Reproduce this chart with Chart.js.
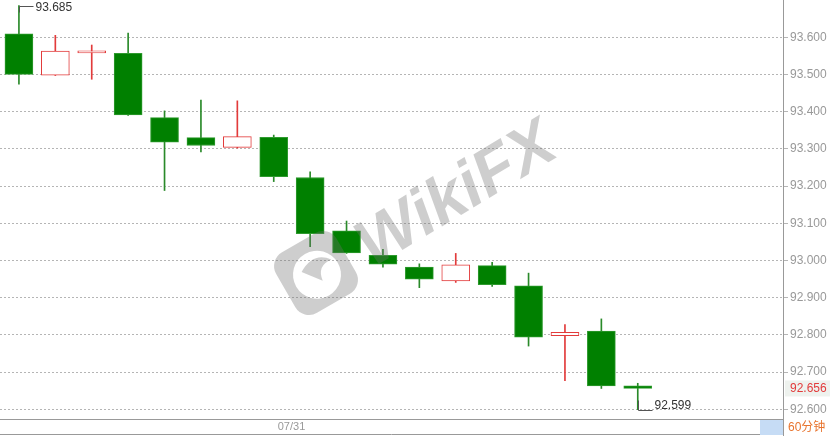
<!DOCTYPE html>
<html>
<head>
<meta charset="utf-8">
<script src="https://cdn.jsdelivr.net/npm/chart.js@4.4.0/dist/chart.umd.min.js"></script>
<style>
  body { margin: 0; background: #fff; }
  #wrap { width: 830px; height: 436px; position: relative; }
</style>
</head>
<body>
<div id="wrap"><canvas id="grafico"></canvas></div>
<script>
// velas de 60 minutos
const opens  = [93.609, 93.498, 93.558, 93.557, 93.384, 93.330, 93.304, 93.331, 93.223, 93.080, 93.014, 92.982, 92.945, 92.986, 92.932, 92.798, 92.810, 92.663];
const highs  = [93.685, 93.605, 93.579, 93.611, 93.402, 93.431, 93.429, 93.337, 93.238, 93.106, 93.030, 92.991, 93.019, 92.995, 92.966, 92.828, 92.843, 92.670];
const lows   = [93.474, 93.497, 93.487, 93.390, 93.188, 93.292, 93.302, 93.212, 93.037, 93.019, 92.982, 92.927, 92.941, 92.930, 92.770, 92.677, 92.656, 92.599];
const closes = [93.500, 93.563, 93.560, 93.391, 93.318, 93.309, 93.333, 93.225, 93.072, 93.020, 92.990, 92.950, 92.988, 92.935, 92.794, 92.807, 92.663, 92.656];

const yTicks = [92.6, 92.7, 92.8, 92.9, 93.0, 93.1, 93.2, 93.3, 93.4, 93.5, 93.6];
const xTickIdx = [7];
const xTickLabels = ["07/31"];
const periodo = "60分钟";

const idx = opens.map((_, i) => i);
const sobe = idx.map((i) => closes[i] >= opens[i]);

const VERDE = "#008000";
const VERMELHO = "#e23b3b";
const FONTE = '"Liberation Sans", Arial, sans-serif';

// marca d'agua, maxima/minima e rodape
const extras = {
  id: "extras",
  afterDatasetsDraw(chart) {
    const { ctx, scales: { x, y } } = chart;

    // WikiFX
    ctx.save();
    ctx.fillStyle = "rgba(110,110,110,0.34)";
    ctx.translate(457, 196);
    ctx.rotate(-31 * Math.PI / 180);
    ctx.font = "italic bold 66px " + FONTE;
    ctx.textAlign = "center";
    ctx.textBaseline = "middle";
    ctx.fillText("WikiFX", 0, 0);
    ctx.restore();

    ctx.save();
    ctx.translate(316, 273);
    ctx.rotate(-30 * Math.PI / 180);
    ctx.fillStyle = "rgba(110,110,110,0.34)";
    ctx.beginPath();
    ctx.roundRect(-35, -35, 70, 70, 16);
    ctx.arc(0, 2, 24, 0, Math.PI * 2, true);
    ctx.fill("evenodd");
    ctx.beginPath();
    ctx.moveTo(-12, -8);
    ctx.quadraticCurveTo(8, -20, 20, -4);
    ctx.quadraticCurveTo(4, -6, 2, 10);
    ctx.quadraticCurveTo(-6, 0, -12, -8);
    ctx.fill();
    ctx.restore();

    // maxima e minima
    const iMax = highs.indexOf(Math.max(...highs));
    const iMin = lows.indexOf(Math.min(...lows));
    ctx.save();
    ctx.strokeStyle = "#555";
    ctx.lineWidth = 1;
    ctx.fillStyle = "#333";
    ctx.font = "12px " + FONTE;
    ctx.textAlign = "left";

    let px = Math.round(x.getPixelForValue(iMax)) + 0.5;
    let py = Math.round(y.getPixelForValue(highs[iMax])) + 0.5;
    ctx.beginPath();
    ctx.moveTo(px, py + 6);
    ctx.lineTo(px, py);
    ctx.lineTo(px + 14, py);
    ctx.stroke();
    ctx.textBaseline = "middle";
    ctx.fillText(highs[iMax].toFixed(3), px + 16, py + 1);

    px = Math.round(x.getPixelForValue(iMin)) + 0.5;
    py = Math.round(y.getPixelForValue(lows[iMin])) + 0.5;
    ctx.beginPath();
    ctx.moveTo(px, py - 10);
    ctx.lineTo(px, py);
    ctx.lineTo(px + 14, py);
    ctx.stroke();
    ctx.textBaseline = "bottom";
    ctx.fillText(lows[iMin].toFixed(3), px + 16, py + 1);
    ctx.restore();
  },
  afterDraw(chart) {
    const { ctx, chartArea, scales: { y } } = chart;
    const ultimo = closes[closes.length - 1];
    const ly = y.getPixelForValue(ultimo);
    ctx.save();
    ctx.fillStyle = "#eef2ee";
    ctx.fillRect(chartArea.right + 2, ly - 8, 46, 16);
    ctx.fillStyle = VERMELHO;
    ctx.font = "12px " + FONTE;
    ctx.textBaseline = "middle";
    ctx.fillText(ultimo.toFixed(3), chartArea.right + 7, ly);

    // rodape
    ctx.strokeStyle = "#999";
    ctx.lineWidth = 1;
    ctx.beginPath();
    ctx.moveTo(0, 434.5);
    ctx.lineTo(chartArea.right, 434.5);
    ctx.moveTo(chartArea.right + 0.5, chartArea.bottom);
    ctx.lineTo(chartArea.right + 0.5, 436);
    ctx.stroke();
    ctx.fillStyle = "#c6dcf5";
    ctx.fillRect(chartArea.right - 23, chartArea.bottom + 1, 23, 15);
    ctx.fillStyle = "#e8742e";
    ctx.font = '12px "Liberation Sans", "Noto Sans CJK SC", sans-serif';
    ctx.fillText(periodo, chartArea.right + 5, chartArea.bottom + 9);
    ctx.restore();
  },
};

new Chart(document.getElementById("grafico"), {
  type: "bar",
  data: {
    datasets: [
      {
        label: "corpo",
        data: idx.map((i) => ({ x: i, y: [opens[i], closes[i]] })),
        backgroundColor: idx.map((i) => (sobe[i] ? "#ffffff" : VERDE)),
        borderColor: idx.map((i) => (sobe[i] ? VERMELHO : "#2f9a2f")),
        borderWidth: 1,
        borderSkipped: false,
        barThickness: 28,
        minBarLength: 2,
        grouped: false,
        order: 0,
      },
      {
        label: "pavio",
        data: idx.map((i) => ({ x: i, y: [lows[i], highs[i]] })),
        backgroundColor: idx.map((i) => (sobe[i] ? VERMELHO : "#2a8a2a")),
        borderWidth: 0,
        barThickness: 1,
        grouped: false,
        order: 1,
      },
    ],
  },
  options: {
    responsive: true,
    maintainAspectRatio: false,
    animation: false,
    layout: { padding: 0 },
    plugins: {
      legend: { display: false },
      tooltip: { enabled: false },
    },
    scales: {
      x: {
        type: "linear",
        min: -0.52,
        max: 20.99,
        offset: false,
        afterBuildTicks: (scale) => {
          scale.ticks = xTickIdx.map((v) => ({ value: v }));
        },
        afterFit: (scale) => {
          scale.height = 17;
          scale.paddingLeft = 0;
          scale.paddingRight = 0;
        },
        grid: { drawOnChartArea: false, drawTicks: true, tickLength: 5, color: "#999" },
        border: { display: true, color: "#999" },
        ticks: {
          autoSkip: false,
          maxRotation: 0,
          align: "start",
          labelOffset: 4,
          padding: -4,
          color: "#999",
          font: { size: 11, family: FONTE },
          callback: (v) => xTickLabels[xTickIdx.indexOf(v)],
        },
      },
      y: {
        position: "right",
        min: 92.574,
        max: 93.7,
        afterBuildTicks: (scale) => {
          scale.ticks = yTicks.map((v) => ({ value: v }));
        },
        afterFit: (scale) => {
          scale.width = 47;
          scale.paddingTop = 0;
          scale.paddingBottom = 0;
        },
        grid: { color: "#b5b5b5", tickLength: 5 },
        border: { display: true, color: "#999", dash: [2, 2] },
        ticks: {
          padding: 2,
          color: "#999",
          font: { size: 12, family: FONTE },
          callback: (v) => v.toFixed(3),
        },
      },
    },
  },
  plugins: [extras],
});
</script>
</body>
</html>
